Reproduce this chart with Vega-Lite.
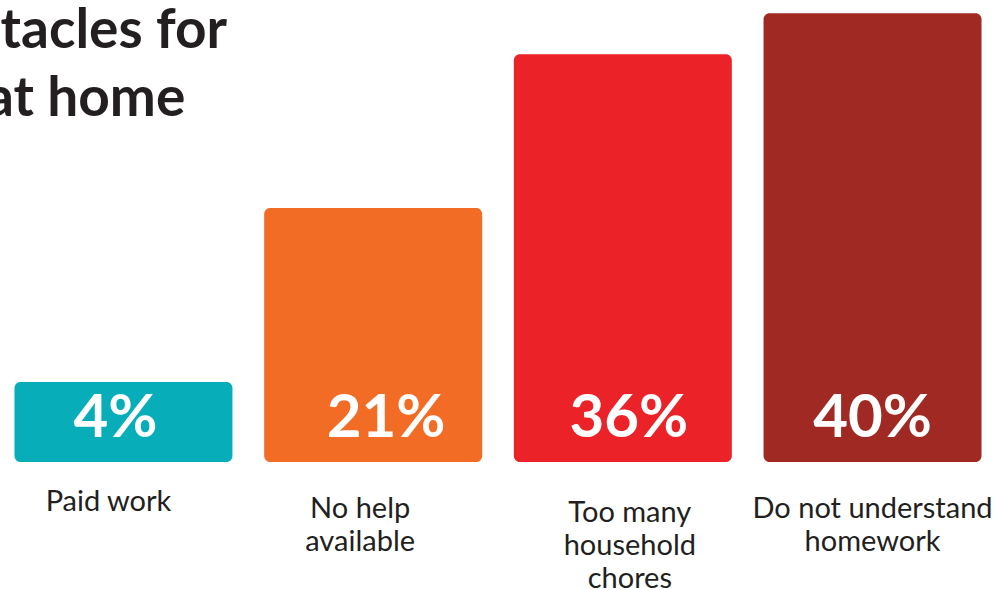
{
  "$schema": "https://vega.github.io/schema/vega-lite/v6.json",
  "width": 996,
  "height": 462,
  "autosize": {"type": "none"},
  "padding": {"left": 0, "top": 0, "right": 0, "bottom": 128},
  "background": "white",
  "title": {
    "text": ["Main obstacles for", "learning at home"],
    "anchor": "start",
    "frame": "group",
    "orient": "top",
    "offset": 0,
    "baseline": "top",
    "align": "left",
    "dx": -224,
    "dy": 128,
    "font": "Lato",
    "fontSize": 55,
    "fontWeight": "bold",
    "color": "#231f20",
    "lineHeight": 68
  },
  "data": {
    "values": [
      {"cause": "Paid work", "value": 4, "label": "4%"},
      {"cause": "No help available", "value": 21, "label": "21%"},
      {"cause": "Too many household chores", "value": 36, "label": "36%"},
      {"cause": "Do not understand homework", "value": 40, "label": "40%"}
    ]
  },
  "encoding": {
    "x": {
      "field": "cause",
      "type": "nominal",
      "sort": null,
      "scale": {"paddingInner": 0.127, "paddingOuter": 0.058},
      "axis": {
        "title": null,
        "domain": false,
        "ticks": false,
        "grid": false,
        "labelAngle": 0,
        "labelFont": "Lato",
        "labelFontSize": 29,
        "labelColor": "#231f20",
        "labelPadding": {
          "condition": [
            {"test": "datum.value == 'Paid work'", "value": 25},
            {"test": "datum.value == 'Too many household chores'", "value": 36}
          ],
          "value": 32
        },
        "labelOffset": {
          "condition": [
            {"test": "datum.value == 'Paid work'", "value": -15},
            {"test": "datum.value == 'No help available'", "value": -13},
            {"test": "datum.value == 'Too many household chores'", "value": 7}
          ],
          "value": 0
        },
        "labelBaseline": "top",
        "labelLineHeight": 33,
        "labelLimit": 400,
        "labelOverlap": false,
        "labelFlush": false,
        "labelExpr": "datum.label == 'No help available' ? ['No help', 'available'] : datum.label == 'Too many household chores' ? ['Too many', 'household', 'chores'] : datum.label == 'Do not understand homework' ? ['Do not understand', 'homework'] : datum.label"
      }
    }
  },
  "layer": [
    {
      "mark": {"type": "bar", "cornerRadius": 6},
      "encoding": {
        "y": {
          "field": "value",
          "type": "quantitative",
          "scale": {"domain": [-3.8, 41.3], "zero": false, "nice": false},
          "axis": null
        },
        "y2": {"datum": -3.8},
        "color": {
          "field": "cause",
          "type": "nominal",
          "sort": null,
          "scale": {
            "domain": ["Paid work", "No help available", "Too many household chores", "Do not understand homework"],
            "range": ["#07aeba", "#f26c26", "#ec2229", "#a12923"]
          },
          "legend": null
        }
      }
    },
    {
      "mark": {
        "type": "text",
        "font": "Lato",
        "fontSize": 60,
        "fontWeight": "bold",
        "color": "white",
        "baseline": "middle",
        "dy": -43,
        "dx": {"expr": "datum.cause == 'Paid work' ? -8 : datum.cause == 'No help available' ? 13 : datum.cause == 'Too many household chores' ? 6 : 0"}
      },
      "encoding": {
        "y": {"datum": -3.8},
        "text": {"field": "label"}
      }
    }
  ],
  "config": {"view": {"stroke": null}}
}
